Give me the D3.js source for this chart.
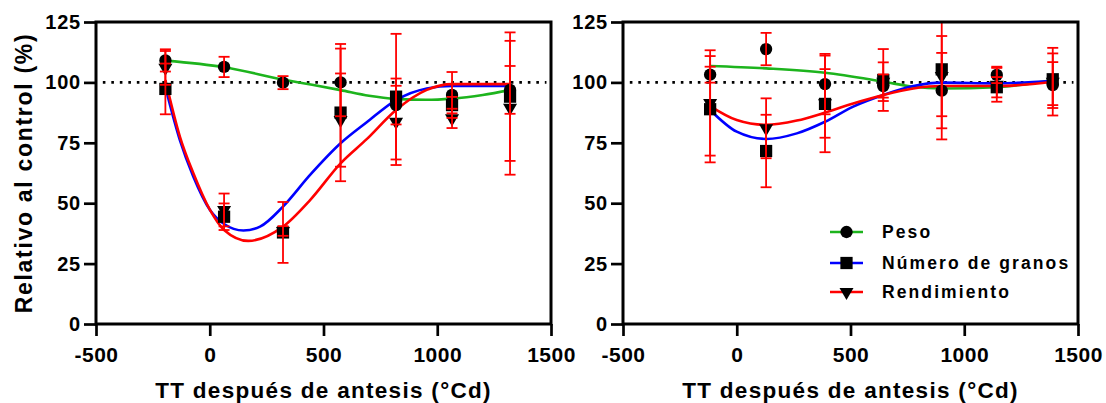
<!DOCTYPE html>
<html><head><meta charset="utf-8">
<script src="https://cdn.jsdelivr.net/npm/d3@7"></script>
<style>
body{margin:0;background:#fff}
text{font-family:Arial,"Liberation Sans",sans-serif;font-weight:bold;fill:#000}
</style>
</head><body><svg id="c" width="1106" height="403"></svg>
<script>
// ---------- data ----------
const xTicks = [-500, 0, 500, 1000, 1500];
const yTicks = [0, 25, 50, 75, 100, 125];
const seriesNames = ["Peso", "Número de granos", "Rendimiento"];
const xTitle = "TT después de antesis (°Cd)";
const yTitle = "Relativo al control (%)";

// left panel – observed points (mean, error)
const leftTT = [-195, 63, 322, 575, 819, 1065, 1320];
const leftPeso = [109.1, 106.4, 99.9, 100.0, 90.6, 94.8, 96.9];
const leftPesoErr = [4.6, 4.2, 2.7, 14.0, 8.0, 9.5, 9.9];
const leftGranos = [97.3, 44.4, 37.9, 87.5, 94.1, 90.6, 94.1];
const leftGranosErr = [10.5, 5.5, 12.6, 28.4, 26.0, 3.4, 26.6];
const leftRend = [106.0, 47.2, 38.5, 84.4, 83.7, 85.1, 89.5];
const leftRendErr = [7.0, 6.8, 2.0, 19.3, 17.9, 4.0, 27.7];

// left panel – fitted curves
const leftPesoFitTT = [-195, 63, 322, 450, 575, 700, 819, 950, 1065, 1200, 1320];
const leftPesoFit = [109, 106.3, 101.2, 99, 96.8, 94.5, 93.2, 92.8, 93.3, 94.8, 96.8];
const leftGranosFitTT = [-195, -131, -72, 1, 63, 148, 221, 322, 441, 575, 690, 819, 954, 1065, 1320];
const leftGranosFit = [98, 76, 61, 47.2, 41.4, 38.7, 40.3, 48.6, 61.7, 74.8, 83.5, 92.7, 97.5, 98.5, 98.5];
const leftRendFitTT = [-195, -131, -72, 1, 63, 169, 322, 441, 575, 690, 819, 954, 1065, 1320];
const leftRendFit = [101, 77.5, 62.4, 47.2, 38.9, 34.4, 40.3, 51.3, 66.5, 76.5, 88.6, 96.9, 99.3, 99.3];

// right panel – observed points
const rightTT = [-117, 129, 388, 644, 901, 1143, 1389];
const rightPeso = [103.2, 113.8, 99.3, 98.5, 96.6, 103.1, 98.9];
const rightPesoErr = [3.3, 6.7, 12.5, 4.8, 15.6, 3.4, 9.5];
const rightGranos = [88.9, 71.6, 91.1, 101.0, 105.4, 98.0, 101.3];
const rightGranosErr = [22.0, 15.0, 20.0, 12.8, 29.0, 4.2, 10.7];
const rightRend = [91.5, 81.0, 91.3, 100.3, 102.6, 99.0, 100.3];
const rightRendErr = [21.8, 12.4, 14.2, 8.0, 16.6, 7.0, 14.0];

// right panel – fitted curves
const rightPesoFitTT = [-117, 129, 388, 644, 776, 901, 1143, 1389];
const rightPesoFit = [106.8, 105.8, 104, 100.3, 98.2, 97.5, 98, 101];
const rightFitTT = [-117, 0, 129, 264, 388, 512, 644, 776, 901, 1143, 1389];
const rightGranosFit = [88.6, 79.6, 76.6, 78.9, 83.7, 90, 94.8, 98.5, 99.9, 99.6, 100.7];
const rightRendFit = [90.2, 84.4, 82.4, 84.2, 87.5, 91.3, 94.8, 97.5, 98.5, 98.5, 100.3];

// ---------- style ----------
const colors = ["#1db41d", "#0000ff", "#ff0000"];
const errColor = "#ff0000";
const symbols = [
  d3.symbol().type(d3.symbolCircle).size(120),
  d3.symbol().type(d3.symbolSquare).size(150),
  d3.symbol().type(d3.symbolTriangle).size(85)
];
const symRot = [0, 0, 180];

const svg = d3.select("#c");
const zip = (a, b) => a.map((v, i) => [v, b[i]]);
const plain = d => String(d);

function drawPanel(id, left, right, top, bottom, pts, fits, showYTitle) {
  const x = d3.scaleLinear().domain([-500, 1500]).range([left, right]);
  const y = d3.scaleLinear().domain([0, 125]).range([bottom, top]);
  const g = svg.append("g");

  svg.append("defs").append("clipPath").attr("id", "clip" + id)
    .append("rect").attr("x", left).attr("y", top).attr("width", right - left).attr("height", bottom - top);

  // reference line
  g.append("line")
    .attr("x1", x(-470)).attr("x2", x(1480)).attr("y1", y(100)).attr("y2", y(100))
    .attr("stroke", "#000").attr("stroke-width", 2.6).attr("stroke-dasharray", "2.6,5.9");

  // curves
  const line = d3.line().x(d => x(d[0])).y(d => y(d[1])).curve(d3.curveMonotoneX);
  fits.forEach((f, i) => {
    g.append("path").datum(zip(f[0], f[1]))
      .attr("d", line).attr("fill", "none").attr("stroke", colors[i]).attr("stroke-width", 2.6);
  });

  // markers
  pts.forEach((s, i) => {
    g.selectAll(null).data(zip(s[0], s[1])).join("path")
      .attr("d", symbols[i])
      .attr("transform", d => `translate(${x(d[0])},${y(d[1])}) rotate(${symRot[i]})`)
      .attr("fill", "#000");
  });

  // error bars
  const eg = g.append("g").attr("clip-path", `url(#clip${id})`)
    .attr("stroke", errColor).attr("stroke-width", 1.8).attr("fill", "none");
  pts.forEach((s) => {
    s[0].forEach((t, j) => {
      const m = s[1][j], e = s[2][j];
      const cx = x(t);
      eg.append("line").attr("x1", cx).attr("x2", cx).attr("y1", y(m - e)).attr("y2", y(m + e));
      [m - e, m + e].forEach(v => {
        eg.append("line").attr("x1", cx - 5.5).attr("x2", cx + 5.5).attr("y1", y(v)).attr("y2", y(v));
      });
    });
  });

  // frame
  g.append("rect").attr("x", left).attr("y", top).attr("width", right - left).attr("height", bottom - top)
    .attr("fill", "none").attr("stroke", "#000").attr("stroke-width", 3);

  // axes
  const ya = g.append("g").attr("transform", `translate(${left},0)`)
    .call(d3.axisLeft(y).tickValues(yTicks).tickFormat(plain).tickSize(12).tickPadding(3));
  ya.select(".domain").remove();
  ya.selectAll("line").attr("stroke-width", 2.7);
  ya.selectAll("text").attr("font-size", 20).attr("font-family", null).style("letter-spacing", "0.8px");

  const xa = g.append("g").attr("transform", `translate(0,${bottom})`)
    .call(d3.axisBottom(x).tickValues(xTicks).tickFormat(plain).tickSize(12).tickPadding(11));
  xa.select(".domain").remove();
  xa.selectAll("line").attr("stroke-width", 2.7);
  xa.selectAll("text").attr("font-size", 21).attr("font-family", null).style("letter-spacing", "0.5px");

  g.append("text").attr("x", (left + right) / 2).attr("y", 398)
    .attr("text-anchor", "middle").attr("font-size", 22.5).style("letter-spacing", "1.3px")
    .text(xTitle);

  if (showYTitle) {
    g.append("text").attr("transform", `translate(31.5,${(top + bottom) / 2}) rotate(-90)`)
      .attr("text-anchor", "middle").attr("font-size", 23).style("letter-spacing", "1.7px")
      .text(yTitle);
  }
  return { x, y, g };
}

drawPanel("L", 96, 551, 22, 324,
  [[leftTT, leftPeso, leftPesoErr], [leftTT, leftGranos, leftGranosErr], [leftTT, leftRend, leftRendErr]],
  [[leftPesoFitTT, leftPesoFit], [leftGranosFitTT, leftGranosFit], [leftRendFitTT, leftRendFit]], true);

drawPanel("R", 623, 1078, 22, 324,
  [[rightTT, rightPeso, rightPesoErr], [rightTT, rightGranos, rightGranosErr], [rightTT, rightRend, rightRendErr]],
  [[rightPesoFitTT, rightPesoFit], [rightFitTT, rightGranosFit], [rightFitTT, rightRendFit]], false);

// legend
const legRows = [232, 263, 292];
const lg = svg.append("g");
seriesNames.forEach((name, i) => {
  const yy = legRows[i];
  lg.append("line").attr("x1", 830).attr("x2", 863).attr("y1", yy).attr("y2", yy)
    .attr("stroke", colors[i]).attr("stroke-width", 2.6);
  lg.append("path").attr("d", symbols[i]).attr("transform", `translate(846.5,${yy}) rotate(${symRot[i]})`).attr("fill", "#000");
  lg.append("text").attr("x", 882).attr("y", yy).attr("dy", "0.36em")
    .attr("font-size", 17.5).style("letter-spacing", "2.1px").text(name);
});
</script></body></html>
